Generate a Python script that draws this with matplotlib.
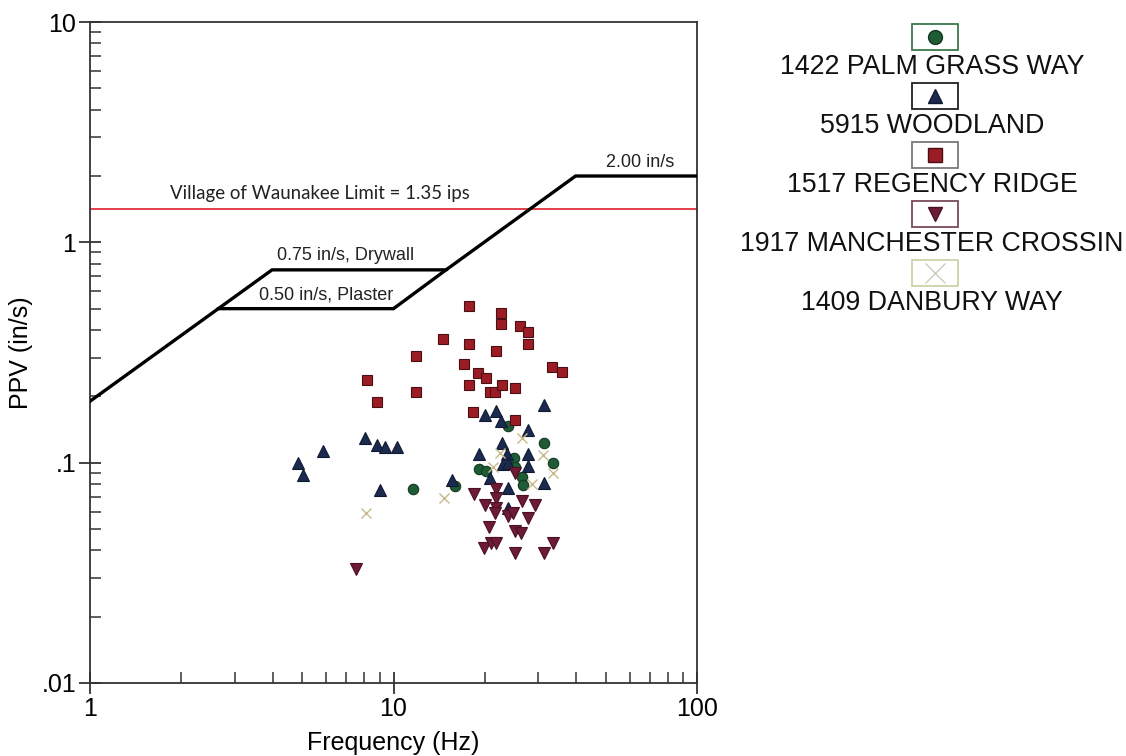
import matplotlib
matplotlib.use("Agg")
import matplotlib.pyplot as plt
from matplotlib.patches import Rectangle
from matplotlib.ticker import FixedLocator, LogLocator, NullFormatter


# ==========================
# DADOS
# ==========================

series_nomes = [
    "1422 PALM GRASS WAY",
    "5915 WOODLAND",
    "1517 REGENCY RIDGE",
    "1917 MANCHESTER CROSSIN",
    "1409 DANBURY WAY",
]

palm_freq = [11.6, 15.9, 23.8, 31.3, 24.9, 33.5, 19.1, 20.2, 26.5, 26.7, 25.1]
palm_ppv = [0.076, 0.078, 0.147, 0.123, 0.105, 0.100, 0.094, 0.092, 0.086, 0.079, 0.096]

woodland_freq = [4.85, 5.03, 5.86, 8.06, 8.82, 9.37, 10.3, 9.03, 15.6, 20.0, 21.8, 22.6, 31.3,
                 27.8, 22.8, 19.1, 23.7, 27.8, 22.9, 23.8, 27.8, 20.8, 23.8, 31.3, 23.8]
woodland_ppv = [0.100, 0.088, 0.113, 0.130, 0.120, 0.118, 0.118, 0.075, 0.083, 0.164, 0.172, 0.155, 0.182,
                0.141, 0.123, 0.110, 0.109, 0.110, 0.099, 0.100, 0.097, 0.085, 0.077, 0.081, 0.062]

regency_freq = [8.2, 8.8, 11.9, 11.9, 14.6, 17.7, 17.7, 17.1, 19.0, 20.2, 17.7, 20.8, 21.6,
                21.8, 22.6, 22.6, 22.8, 25.1, 26.1, 27.8, 27.8, 33.3, 35.9, 18.3, 25.1]
regency_ppv = [0.238, 0.189, 0.306, 0.210, 0.366, 0.512, 0.347, 0.279, 0.256, 0.243, 0.226, 0.210, 0.210,
               0.320, 0.476, 0.428, 0.226, 0.219, 0.415, 0.390, 0.344, 0.273, 0.259, 0.169, 0.157]

manchester_freq = [7.5, 18.4, 20.0, 21.8, 21.8, 21.8, 21.6, 23.8, 24.8, 26.5, 29.3, 27.8, 20.6,
                   25.1, 26.3, 19.9, 21.0, 21.8, 25.1, 31.3, 33.5, 25.1]
manchester_ppv = [0.033, 0.072, 0.064, 0.076, 0.069, 0.062, 0.059, 0.057, 0.059, 0.067, 0.064, 0.056, 0.051,
                  0.049, 0.048, 0.041, 0.043, 0.043, 0.039, 0.039, 0.043, 0.090]

danbury_freq = [8.1, 14.7, 26.5, 22.4, 31.1, 33.5, 28.6, 21.3]
danbury_ppv = [0.059, 0.069, 0.130, 0.111, 0.108, 0.090, 0.080, 0.096]

# curva USBM (drywall) e trecho do plaster
curva_freq = [1, 3.98, 14.9, 39.8, 100]
curva_ppv = [0.19, 0.75, 0.75, 2.0, 2.0]
plaster_freq = [2.65, 10, 14.9]
plaster_ppv = [0.5, 0.5, 0.75]

limite_vila = 1.42

y_ticks = [0.01, 0.1, 1, 10]
y_tick_labels = [".01", ".1", "1", "10"]
x_ticks = [1, 10, 100]
x_tick_labels = ["1", "10", "100"]


# ==========================
# ESTILOS DAS SERIES
# ==========================

estilos = [
    dict(marker="o", color="#1f5c35", edge="#123820", ms=7.5, box="#3d7a4f"),
    dict(marker="^", color="#1b2a4e", edge="#101a33", ms=8.5, box="#222222"),
    dict(marker="s", color="#9b1c24", edge="#4a0f12", ms=7.0, box="#7a7a7a"),
    dict(marker="v", color="#6e1b35", edge="#4a1023", ms=8.5, box="#7a4a5a"),
    dict(marker="x", color="#c8b98a", edge="#c8b98a", ms=7.0, box="#cfd0a8"),
]

dados = [
    (palm_freq, palm_ppv),
    (woodland_freq, woodland_ppv),
    (regency_freq, regency_ppv),
    (manchester_freq, manchester_ppv),
    (danbury_freq, danbury_ppv),
]

plt.rcParams["font.family"] = ["Liberation Sans", "DejaVu Sans"]

fig = plt.figure(figsize=(11.26, 7.56), dpi=100)
ax = fig.add_axes([90 / 1126, 1 - 683 / 756, 607 / 1126, 661 / 756])

ax.set_xscale("log")
ax.set_yscale("log")
ax.set_xlim(1, 100)
ax.set_ylim(0.01, 10)

# linhas de criterio
ax.plot(curva_freq, curva_ppv, color="black", lw=2.4, solid_joinstyle="miter", zorder=3)
ax.plot(plaster_freq, plaster_ppv, color="black", lw=2.4, solid_joinstyle="miter", zorder=3)
ax.axhline(limite_vila, color="#e0303a", lw=1.3, zorder=2)

fonte_label = ["Liberation Sans", "DejaVu Sans"]
ax.text(6.97, 0.80, "0.75 in/s, Drywall", fontsize=13, family=fonte_label,
        ha="center", va="bottom", color="#222222")
ax.text(6.0, 0.525, "0.50 in/s, Plaster", fontsize=13, family=fonte_label,
        ha="center", va="bottom", color="#222222")
ax.text(65, 2.1, "2.00 in/s", fontsize=13, family=fonte_label,
        ha="center", va="bottom", color="#222222")
ax.text(5.7, 1.52, "Village of Waunakee Limit = 1.35 ips", fontsize=13.4,
        family=["Lato", "DejaVu Sans"], ha="center", va="bottom", color="#222222")

# pontos
for (fx, fy), est in zip(dados, estilos):
    if est["marker"] == "x":
        ax.plot(fx, fy, ls="none", marker="x", ms=est["ms"], mew=1.0,
                color=est["color"], zorder=4)
    else:
        ax.plot(fx, fy, ls="none", marker=est["marker"], ms=est["ms"],
                mfc=est["color"], mec=est["edge"], mew=0.8, zorder=4)

# eixos
for lado in ["left", "right", "top", "bottom"]:
    ax.spines[lado].set_color("#333333")
    ax.spines[lado].set_linewidth(1.3)

ax.xaxis.set_major_locator(FixedLocator(x_ticks))
ax.set_xticklabels(x_tick_labels)
ax.yaxis.set_major_locator(FixedLocator(y_ticks))
ax.set_yticklabels(y_tick_labels)
ax.xaxis.set_minor_locator(LogLocator(base=10, subs=range(2, 10)))
ax.yaxis.set_minor_locator(LogLocator(base=10, subs=range(2, 10)))
ax.xaxis.set_minor_formatter(NullFormatter())
ax.yaxis.set_minor_formatter(NullFormatter())

ax.tick_params(axis="both", which="major", direction="inout", length=16, width=1.3,
               color="#333333", labelsize=18, pad=2)
ax.tick_params(axis="both", which="minor", direction="in", length=8, width=1.1,
               color="#333333")

ax.set_xlabel("Frequency (Hz)", fontsize=18, labelpad=7)
ax.set_ylabel("PPV (in/s)", fontsize=18, labelpad=6)

# ==========================
# LEGENDA
# ==========================

leg = fig.add_axes([0, 0, 1, 1])
leg.set_xlim(0, 1126)
leg.set_ylim(756, 0)
leg.axis("off")

centro_x = 935
for i, (nome, est) in enumerate(zip(series_nomes, estilos)):
    yc = 37 + i * 59
    leg.add_patch(Rectangle((centro_x - 23, yc - 13), 46, 26, fill=False,
                            edgecolor=est["box"], lw=1.3))
    if est["marker"] == "x":
        leg.plot(centro_x, yc, marker="x", ms=14, mew=0.9, color="#c8c8b8")
    else:
        leg.plot(centro_x, yc, marker=est["marker"], ms=10, mfc=est["color"],
                 mec=est["edge"], ls="none")
    leg.text(centro_x - 3, yc + 30, nome, fontsize=19.3, ha="center", va="center",
             color="#111111")

plt.savefig("out.png", dpi=100)
plt.close()
